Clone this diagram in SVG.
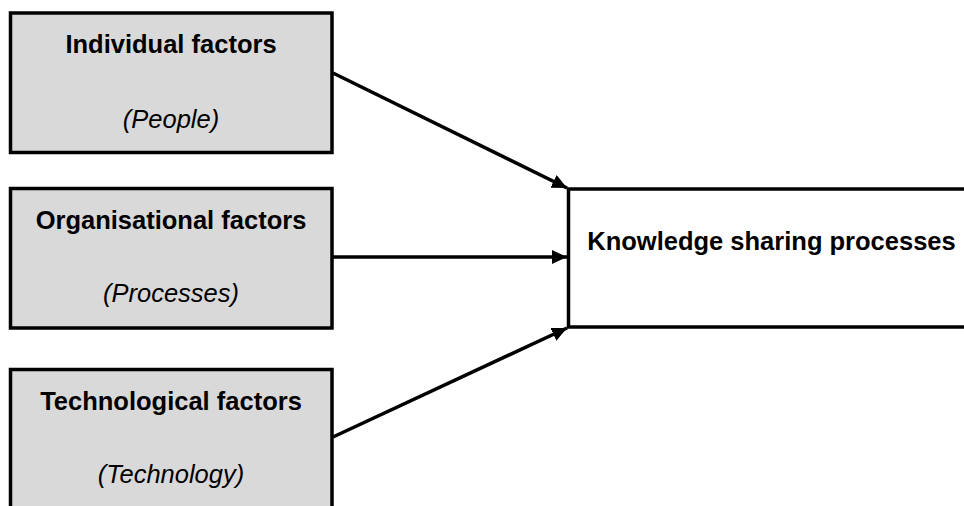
<svg xmlns="http://www.w3.org/2000/svg" width="964" height="506" viewBox="0 0 964 506">
  <defs>
    <marker id="arrow" markerUnits="userSpaceOnUse" markerWidth="16" markerHeight="15" refX="15" refY="7" orient="auto">
      <path d="M0,0 L15,7 L0,14 Z" fill="#000"/>
    </marker>
    <style>
      .factor { fill: #d9d9d9; stroke: #000; stroke-width: 3.5; }
      .target { fill: #fff; stroke: #000; stroke-width: 3.5; }
      .title { font-family: "Liberation Sans", Arial, sans-serif; font-weight: bold; font-size: 25.5px; fill: #000; text-anchor: middle; }
      .sub { font-family: "Liberation Sans", Arial, sans-serif; font-style: italic; font-size: 25.5px; fill: #000; text-anchor: middle; }
      .link { stroke: #000; stroke-width: 3.5; fill: none; marker-end: url(#arrow); }
    </style>
  </defs>
  <rect width="964" height="506" fill="#fff"/>

  <g id="individual">
    <rect class="factor" x="10.5" y="13" width="321.5" height="139.5"/>
    <text class="title" x="171" y="53">Individual factors</text>
    <text class="sub" x="171" y="128">(People)</text>
  </g>

  <g id="organisational">
    <rect class="factor" x="10.5" y="188.5" width="321.5" height="139.5"/>
    <text class="title" x="171" y="229">Organisational factors</text>
    <text class="sub" x="171" y="302">(Processes)</text>
  </g>

  <g id="technological">
    <rect class="factor" x="10.5" y="369.5" width="321.5" height="150"/>
    <text class="title" x="171" y="410">Technological factors</text>
    <text class="sub" x="171" y="483">(Technology)</text>
  </g>

  <g id="knowledge-sharing">
    <rect class="target" x="568.5" y="189" width="410" height="138"/>
    <text class="title" x="771.5" y="250">Knowledge sharing processes</text>
  </g>

  <g id="connectors">
    <line class="link" x1="333" y1="73" x2="567" y2="188"/>
    <line class="link" x1="333" y1="257" x2="567" y2="257"/>
    <line class="link" x1="333" y1="437" x2="567" y2="328"/>
  </g>
</svg>
